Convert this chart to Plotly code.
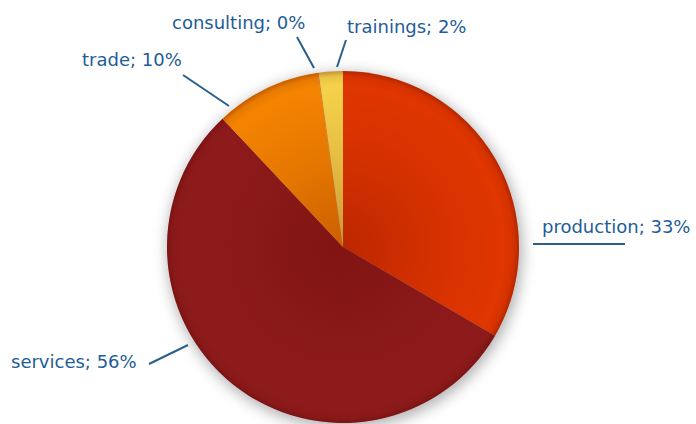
"""Pie chart of revenue split by activity, with hand-placed leader labels."""

import base64
import plotly.graph_objects as go

# Data
categories = ["production", "services", "trade", "consulting", "trainings"]
values = [33.4, 54.6, 9.7, 0.1, 2.2]          # slice sizes as drawn
pct_labels = [33, 56, 10, 0, 2]               # percentages printed on the labels
colors = ["#e03600", "#8e1b1b", "#f48400", "#e87a10", "#f5d24a"]

W, H = 696, 424
CX, CY, R = 343, 247, 176   # pie centre / radius in pixels


def px(x):
    return x / W


def py(y):
    return 1 - y / H


def svg_uri(svg):
    return "data:image/svg+xml;base64," + base64.b64encode(svg.encode()).decode()


fig = go.Figure()

fig.add_trace(go.Pie(
    labels=categories,
    values=values,
    sort=False,
    direction="clockwise",
    rotation=0,
    marker=dict(colors=colors, line=dict(width=0)),
    textinfo="none",
    hoverinfo="label+percent",
    domain=dict(x=[px(CX - R), px(CX + R)], y=[py(CY + R), py(CY - R)]),
    showlegend=False,
))

# soft shading: darker towards the centre, thin darker rim
shade = """<svg xmlns='http://www.w3.org/2000/svg' width='200' height='200' viewBox='0 0 200 200'>
<defs><radialGradient id='g' cx='50%' cy='50%' r='50%'>
<stop offset='0%' stop-color='#600000' stop-opacity='0.28'/>
<stop offset='50%' stop-color='#600000' stop-opacity='0.10'/>
<stop offset='92%' stop-color='#600000' stop-opacity='0.0'/>
<stop offset='97%' stop-color='#500000' stop-opacity='0.08'/>
<stop offset='100%' stop-color='#500000' stop-opacity='0.3'/>
</radialGradient></defs>
<circle cx='100' cy='100' r='100' fill='url(#g)'/></svg>"""

shadow = """<svg xmlns='http://www.w3.org/2000/svg' width='240' height='240' viewBox='0 0 240 240'>
<defs><filter id='b' x='-20%' y='-20%' width='140%' height='140%'>
<feGaussianBlur stdDeviation='4'/></filter></defs>
<circle cx='121' cy='122' r='101' fill='#000' fill-opacity='0.3' filter='url(#b)'/></svg>"""

sh_scale = 240 / 200 * R
fig.add_layout_image(dict(
    source=svg_uri(shadow), xref="paper", yref="paper",
    x=px(CX - sh_scale), y=py(CY - sh_scale),
    sizex=2 * sh_scale / W, sizey=2 * sh_scale / H,
    sizing="stretch", layer="below", xanchor="left", yanchor="top",
))
fig.add_layout_image(dict(
    source=svg_uri(shade), xref="paper", yref="paper",
    x=px(CX - R), y=py(CY - R),
    sizex=2 * R / W, sizey=2 * R / H,
    sizing="stretch", layer="above", xanchor="left", yanchor="top",
))

# label text positions (left edge, vertical middle) and leader lines, in pixels
label_pos = {
    "production": (540, 227),
    "services": (9, 361),
    "trade": (80, 60),
    "consulting": (170, 22),
    "trainings": (345, 26),
}
leaders = {
    "production": ((533, 244), (625, 244)),
    "services": ((149, 364), (188, 345)),
    "trade": ((183, 75), (229, 106)),
    "consulting": ((297, 37), (314, 68)),
    "trainings": ((346, 40), (337, 67)),
}

label_color = "#1d5d99"
for name, pct in zip(categories, pct_labels):
    lx, ly = label_pos[name]
    fig.add_annotation(
        text=f"{name}; {pct}%",
        xref="paper", yref="paper",
        x=px(lx), y=py(ly),
        xanchor="left", yanchor="middle",
        showarrow=False,
        font=dict(family="DejaVu Sans", size=18, color=label_color),
    )
    (x0, y0), (x1, y1) = leaders[name]
    fig.add_shape(
        type="line", xref="paper", yref="paper",
        x0=px(x0), y0=py(y0), x1=px(x1), y1=py(y1),
        line=dict(color="#2b5f8a", width=2),
    )

fig.update_layout(
    width=W, height=H,
    margin=dict(l=0, r=0, t=0, b=0),
    paper_bgcolor="white",
    plot_bgcolor="white",
)

# drop the browser's default body margin so the figure sits at 0,0
fig.write_html(
    "out.html",
    config={"displayModeBar": False},
    post_script="document.body.style.margin='0';",
)
